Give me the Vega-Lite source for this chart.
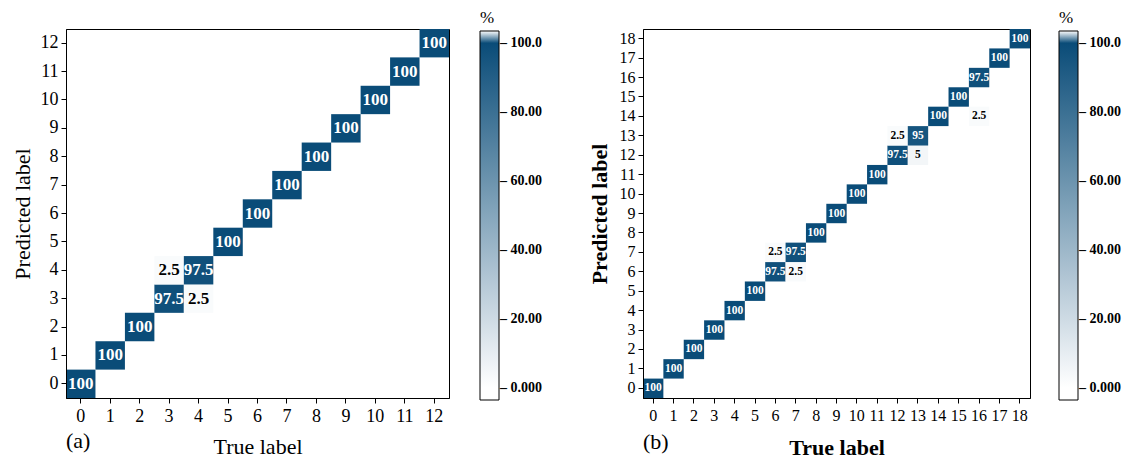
{
  "$schema": "https://vega.github.io/schema/vega-lite/v6.json",
  "background": "white",
  "padding": {"left": 10, "top": 9, "right": 5, "bottom": 3},
  "spacing": 44,
  "config": {
    "font": "Liberation Serif",
    "view": {"stroke": "black", "strokeWidth": 1},
    "axis": {
      "grid": false,
      "domainColor": "black",
      "tickColor": "black",
      "tickSize": 5,
      "labelColor": "black",
      "titleColor": "black",
      "labelFont": "Liberation Serif",
      "titleFont": "Liberation Serif"
    },
    "legend": {
      "labelFont": "Liberation Serif",
      "titleFont": "Liberation Serif"
    }
  },
  "datasets": {
    "a": [
      {"t": 0, "p": 0, "v": 100},
      {"t": 1, "p": 1, "v": 100},
      {"t": 2, "p": 2, "v": 100},
      {"t": 3, "p": 3, "v": 97.5},
      {"t": 4, "p": 3, "v": 2.5},
      {"t": 3, "p": 4, "v": 2.5},
      {"t": 4, "p": 4, "v": 97.5},
      {"t": 5, "p": 5, "v": 100},
      {"t": 6, "p": 6, "v": 100},
      {"t": 7, "p": 7, "v": 100},
      {"t": 8, "p": 8, "v": 100},
      {"t": 9, "p": 9, "v": 100},
      {"t": 10, "p": 10, "v": 100},
      {"t": 11, "p": 11, "v": 100},
      {"t": 12, "p": 12, "v": 100}
    ],
    "b": [
      {"t": 0, "p": 0, "v": 100},
      {"t": 1, "p": 1, "v": 100},
      {"t": 2, "p": 2, "v": 100},
      {"t": 3, "p": 3, "v": 100},
      {"t": 4, "p": 4, "v": 100},
      {"t": 5, "p": 5, "v": 100},
      {"t": 6, "p": 6, "v": 97.5},
      {"t": 7, "p": 6, "v": 2.5},
      {"t": 6, "p": 7, "v": 2.5},
      {"t": 7, "p": 7, "v": 97.5},
      {"t": 8, "p": 8, "v": 100},
      {"t": 9, "p": 9, "v": 100},
      {"t": 10, "p": 10, "v": 100},
      {"t": 11, "p": 11, "v": 100},
      {"t": 12, "p": 12, "v": 97.5},
      {"t": 13, "p": 12, "v": 5},
      {"t": 12, "p": 13, "v": 2.5},
      {"t": 13, "p": 13, "v": 95},
      {"t": 14, "p": 14, "v": 100},
      {"t": 16, "p": 14, "v": 2.5},
      {"t": 15, "p": 15, "v": 100},
      {"t": 16, "p": 16, "v": 97.5},
      {"t": 17, "p": 17, "v": 100},
      {"t": 18, "p": 18, "v": 100}
    ]
  },
  "resolve": {"scale": {"color": "independent", "x": "independent", "y": "independent"}, "legend": {"color": "independent"}},
  "hconcat": [
    {
      "width": 383,
      "height": 369,
      "title": {"text": "(a)", "orient": "bottom", "anchor": "start", "frame": "group", "font": "Liberation Serif", "fontSize": 22, "fontWeight": "normal", "color": "black", "offset": -26},
      "data": {"name": "a"},
      "encoding": {
        "x": {"field": "t", "type": "ordinal", "scale": {"domain": [0,1,2,3,4,5,6,7,8,9,10,11,12], "paddingInner": 0, "paddingOuter": 0},
              "axis": {"title": "True label", "labelAngle": 0, "labelFontSize": 18, "titleFontSize": 22, "titleFontWeight": "normal", "titlePadding": 11, "labelPadding": 4}},
        "y": {"field": "p", "type": "ordinal", "scale": {"domain": [12,11,10,9,8,7,6,5,4,3,2,1,0], "paddingInner": 0, "paddingOuter": 0},
              "axis": {"title": "Predicted label", "labelFontSize": 18, "titleFontSize": 22, "titleFontWeight": "normal", "titlePadding": 6, "labelPadding": 3}}
      },
      "layer": [
        {
          "mark": {"type": "rect"},
          "encoding": {
            "color": {"field": "v", "type": "quantitative",
              "scale": {"type": "linear", "domain": [-3.5, 0, 100, 100.01, 103.5], "range": ["#ffffff", "#ffffff", "#0a4c78", "#ffffff", "#ffffff"], "interpolate": "rgb"},
              "legend": {"title": "%", "orient": "none", "legendX": 414, "legendY": -19, "direction": "vertical", "type": "gradient",
                "gradientLength": 369, "gradientThickness": 19, "gradientStrokeColor": "black", "gradientStrokeWidth": 1,
                "values": [0, 20, 40, 60, 80, 100], "labelOverlap": false, "labelOffset": 1,
                "labelExpr": "datum.value == 100 ? '– 100.0' : datum.value == 0 ? '– 0.000' : '– ' + format(datum.value, '.2f')",
                "labelFontSize": 14, "labelFontWeight": "bold", "labelColor": "black",
                "titleFontSize": 17, "titleFontWeight": "normal", "titleColor": "black", "titlePadding": 4, "titleAnchor": "start"}}
          }
        },
        {
          "mark": {"type": "text", "font": "Liberation Serif", "fontWeight": "bold", "fontSize": 17},
          "encoding": {
            "text": {"field": "v", "type": "nominal"},
            "color": {"condition": {"test": "datum.v > 50", "value": "white"}, "value": "black"}
          }
        }
      ]
    },
    {
      "width": 387,
      "height": 369,
      "title": {"text": "(b)", "orient": "bottom", "anchor": "start", "frame": "group", "font": "Liberation Serif", "fontSize": 22, "fontWeight": "normal", "color": "black", "offset": -26},
      "data": {"name": "b"},
      "encoding": {
        "x": {"field": "t", "type": "ordinal", "scale": {"domain": [0,1,2,3,4,5,6,7,8,9,10,11,12,13,14,15,16,17,18], "paddingInner": 0, "paddingOuter": 0},
              "axis": {"title": "True label", "labelAngle": 0, "labelFontSize": 16, "titleFontSize": 22, "titleFontWeight": "bold", "titlePadding": 14, "labelPadding": 4}},
        "y": {"field": "p", "type": "ordinal", "scale": {"domain": [18,17,16,15,14,13,12,11,10,9,8,7,6,5,4,3,2,1,0], "paddingInner": 0, "paddingOuter": 0},
              "axis": {"title": "Predicted label", "labelFontSize": 16, "titleFontSize": 22, "titleFontWeight": "bold", "titlePadding": 8, "labelPadding": 3}}
      },
      "layer": [
        {
          "mark": {"type": "rect"},
          "encoding": {
            "color": {"field": "v", "type": "quantitative",
              "scale": {"type": "linear", "domain": [-3.5, 0, 100, 100.01, 103.5], "range": ["#ffffff", "#ffffff", "#0a4c78", "#ffffff", "#ffffff"], "interpolate": "rgb"},
              "legend": {"title": "%", "orient": "none", "legendX": 416, "legendY": -19, "direction": "vertical", "type": "gradient",
                "gradientLength": 369, "gradientThickness": 19, "gradientStrokeColor": "black", "gradientStrokeWidth": 1,
                "values": [0, 20, 40, 60, 80, 100], "labelOverlap": false, "labelOffset": 1,
                "labelExpr": "datum.value == 100 ? '– 100.0' : datum.value == 0 ? '– 0.000' : '– ' + format(datum.value, '.2f')",
                "labelFontSize": 14, "labelFontWeight": "bold", "labelColor": "black",
                "titleFontSize": 17, "titleFontWeight": "normal", "titleColor": "black", "titlePadding": 4, "titleAnchor": "start"}}
          }
        },
        {
          "mark": {"type": "text", "font": "Liberation Serif", "fontWeight": "bold", "fontSize": 11.5},
          "encoding": {
            "text": {"field": "v", "type": "nominal"},
            "color": {"condition": {"test": "datum.v > 50", "value": "white"}, "value": "black"}
          }
        }
      ]
    }
  ]
}
